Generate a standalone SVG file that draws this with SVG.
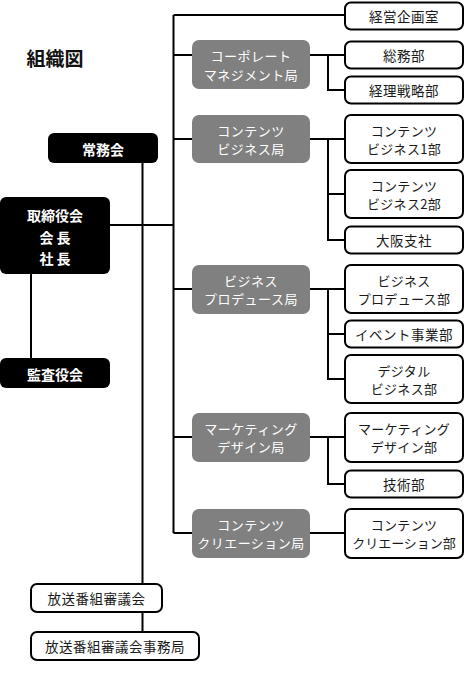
<svg xmlns="http://www.w3.org/2000/svg" width="465" height="700" viewBox="0 0 465 700">
<style>
text{font-family:"Noto Sans CJK JP","Noto Sans",sans-serif;dominant-baseline:central;text-anchor:middle}
.blk rect{fill:#000}
.blk text{fill:#fff;font-size:14px;font-weight:bold}
.bur rect{fill:#808080}
.bur text{fill:#fff;font-size:13px;letter-spacing:0.5px}
.dep rect{fill:#fff;stroke:#000;stroke-width:2}
.dep text{fill:#1a1a1a;font-size:13.5px;letter-spacing:0.5px}
.dep text.t2{font-size:13px;letter-spacing:0.3px}
.con path{fill:none;stroke:#000;stroke-width:2}
</style>
<rect width="465" height="700" fill="#fff"/>
<text x="55" y="57" style="font-size:19px;font-weight:bold;fill:#111">組織図</text>
<g class="con">
<path d="M173.5 15V533"/>
<path d="M173.5 15H345"/>
<path d="M173.5 55H192M310 55H345M328 55V90H345"/>
<path d="M173.5 139H192M310 139H345M328 139V240H345M328 194H345"/>
<path d="M173.5 289H192M310 289H345M328 289V379H345M328 334H345"/>
<path d="M173.5 437H192M310 437H345M328 437V484H345"/>
<path d="M173.5 533H192M310 533H345"/>
<path d="M110 225H173.5"/>
<path d="M142.5 163V584M142.5 612V632"/>
<path d="M31 274V358"/>
</g>
<g id="joumukai" class="blk"><rect x="48" y="133" width="110" height="30" rx="6"/><text x="103" y="148.5">常務会</text></g>
<g id="torishimariyaku" class="blk"><rect x="0" y="197" width="110" height="77" rx="6"/><text x="55" y="215">取締役会</text><text x="55" y="237">会 長</text><text x="55" y="258">社 長</text></g>
<g id="kansayaku" class="blk"><rect x="0" y="358" width="110" height="30" rx="6"/><text x="55" y="373.5">監査役会</text></g>
<g id="bur-corp" class="bur"><rect x="192" y="40" width="118" height="49" rx="7"/><text x="251" y="55">コーポレート</text><text x="251" y="74">マネジメント局</text></g>
<g id="bur-cb" class="bur"><rect x="192" y="115" width="118" height="48" rx="7"/><text x="251" y="130">コンテンツ</text><text x="251" y="148">ビジネス局</text></g>
<g id="bur-bp" class="bur"><rect x="192" y="265" width="118" height="49" rx="7"/><text x="251" y="280">ビジネス</text><text x="251" y="298">プロデュース局</text></g>
<g id="bur-md" class="bur"><rect x="192" y="413" width="118" height="49" rx="7"/><text x="251" y="428">マーケティング</text><text x="251" y="446">デザイン局</text></g>
<g id="bur-cc" class="bur"><rect x="192" y="509" width="118" height="49" rx="7"/><text x="251" y="524">コンテンツ</text><text x="251" y="542">クリエーション局</text></g>
<g id="keiei" class="dep"><rect x="345" y="2.5" width="118" height="27" rx="6"/><text x="404" y="16">経営企画室</text></g>
<g id="soumu" class="dep"><rect x="345" y="41.5" width="118" height="27" rx="6"/><text x="404" y="55">総務部</text></g>
<g id="keiri" class="dep"><rect x="345" y="76.5" width="118" height="27" rx="6"/><text x="404" y="90">経理戦略部</text></g>
<g id="cb1" class="dep"><rect x="345" y="115" width="118" height="48" rx="6"/><text class="t2" x="404" y="130">コンテンツ</text><text class="t2" x="404" y="148">ビジネス1部</text></g>
<g id="cb2" class="dep"><rect x="345" y="170" width="118" height="48" rx="6"/><text class="t2" x="404" y="185">コンテンツ</text><text class="t2" x="404" y="203">ビジネス2部</text></g>
<g id="osaka" class="dep"><rect x="345" y="226.5" width="118" height="27" rx="6"/><text x="404" y="240">大阪支社</text></g>
<g id="bp" class="dep"><rect x="345" y="265" width="118" height="48" rx="6"/><text class="t2" x="404" y="280">ビジネス</text><text class="t2" x="404" y="298">プロデュース部</text></g>
<g id="event" class="dep"><rect x="345" y="320.5" width="118" height="27" rx="6"/><text x="404" y="334">イベント事業部</text></g>
<g id="digital" class="dep"><rect x="345" y="355" width="118" height="48" rx="6"/><text class="t2" x="404" y="370">デジタル</text><text class="t2" x="404" y="388">ビジネス部</text></g>
<g id="md" class="dep"><rect x="345" y="413" width="118" height="49" rx="6"/><text class="t2" x="404" y="428">マーケティング</text><text class="t2" x="404" y="446">デザイン部</text></g>
<g id="gijutsu" class="dep"><rect x="345" y="470.5" width="118" height="27" rx="6"/><text x="404" y="484">技術部</text></g>
<g id="cc" class="dep"><rect x="345" y="509" width="118" height="49" rx="6"/><text class="t2" x="404" y="524">コンテンツ</text><text class="t2" x="404" y="542" style="letter-spacing:0">クリエーション部</text></g>
<g id="shingikai" class="dep"><rect x="31" y="584" width="131" height="28" rx="6"/><text x="96.5" y="598">放送番組審議会</text></g>
<g id="jimukyoku" class="dep"><rect x="31" y="632" width="168" height="28" rx="6"/><text x="115" y="646">放送番組審議会事務局</text></g>
</svg>
